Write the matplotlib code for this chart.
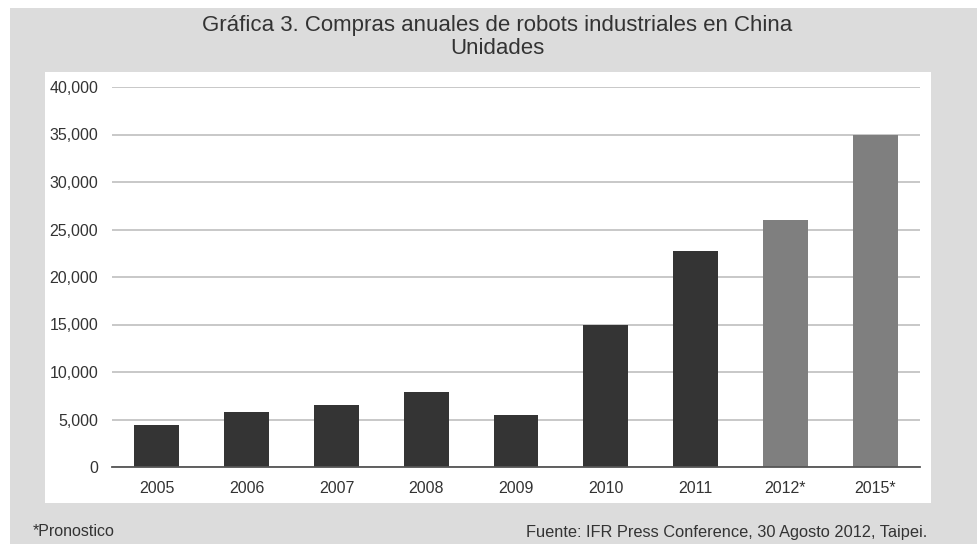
import numpy as np
import matplotlib.pyplot as plt
from matplotlib.patches import Rectangle
from matplotlib.ticker import FuncFormatter

# Compras anuales de robots industriales en China (unidades)
anios = ['2005', '2006', '2007', '2008', '2009', '2010', '2011', '2012*', '2015*']
compras = [4400, 5750, 6500, 7850, 5450, 15000, 22700, 26000, 35000]
pronostico = [False, False, False, False, False, False, False, True, True]

plt.rcParams['font.family'] = ['Liberation Sans', 'DejaVu Sans']
texto = '#333333'

W, H = 978, 544
fig = plt.figure(figsize=(W / 100, H / 100), dpi=100)
fig.patch.set_facecolor('white')

# fondo gris y recuadro blanco del grafico
fig.patches.append(Rectangle((10 / W, 0), (W - 11) / W, (H - 8) / H,
                             transform=fig.transFigure, facecolor='#dcdcdc',
                             edgecolor='none', zorder=-2))
fig.patches.append(Rectangle((45 / W, (H - 503) / H), 886 / W, 431 / H,
                             transform=fig.transFigure, facecolor='white',
                             edgecolor='none', zorder=-1))

ax = fig.add_axes([112 / W, (H - 467) / H, 808 / W, 380 / H])
ax.set_facecolor('none')

x = np.arange(len(anios))
colores = ['#7f7f7f' if p else '#343434' for p in pronostico]
ax.bar(x, compras, width=0.5, color=colores, zorder=3)

ax.set_xlim(-0.5, len(anios) - 0.5)
ax.set_ylim(0, 40000)
ax.set_yticks(np.arange(0, 40001, 5000))
ax.yaxis.set_major_formatter(FuncFormatter(lambda v, p: f'{int(v):,}'))
ax.set_xticks(x)
ax.set_xticklabels(anios)
ax.tick_params(length=0, labelsize=11.5, labelcolor=texto)
ax.tick_params(axis='x', pad=10)
ax.tick_params(axis='y', pad=10)
ax.grid(axis='y', color='#c4c4c4', linewidth=1.3, zorder=1)
for s in ['top', 'right', 'left']:
    ax.spines[s].set_visible(False)
ax.spines['bottom'].set_color('#555555')
ax.spines['bottom'].set_linewidth(1.3)
ax.spines['bottom'].set_zorder(4)

fig.text(497 / W, 1 - 26 / H, 'Gráfica 3. Compras anuales de robots industriales en China',
         ha='center', va='center', fontsize=16, color=texto)
fig.text(497 / W, 1 - 49 / H, 'Unidades', ha='center', va='center',
         fontsize=16, color=texto)
fig.text(33 / W, 1 - 532 / H, '*Pronostico', ha='left', va='center',
         fontsize=11.5, color=texto)
fig.text(927 / W, 1 - 532 / H, 'Fuente: IFR Press Conference, 30 Agosto 2012, Taipei.',
         ha='right', va='center', fontsize=11.8, color=texto)

fig.savefig('out.png', dpi=100, facecolor=fig.get_facecolor())
